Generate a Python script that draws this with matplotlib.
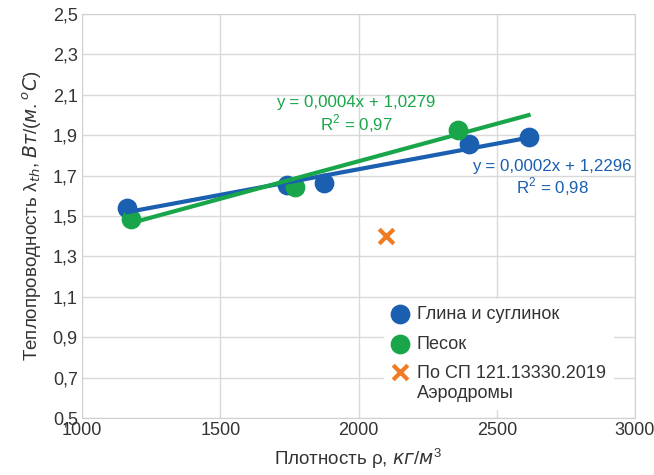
import numpy as np
import matplotlib
matplotlib.use("Agg")
import matplotlib.pyplot as plt
from matplotlib.legend_handler import HandlerPathCollection

plt.rcParams['font.family'] = ['Liberation Sans', 'DejaVu Sans']
plt.rcParams['mathtext.fontset'] = 'custom'
plt.rcParams['mathtext.rm'] = 'Liberation Sans'
plt.rcParams['mathtext.it'] = 'DejaVu Sans:italic'

# data
clay_x = [1164, 1740, 1875, 2400, 2615]
clay_y = [1.54, 1.655, 1.665, 1.855, 1.89]
sand_x = [1176, 1770, 2360]
sand_y = [1.485, 1.645, 1.925]
sp_x = [2100]
sp_y = [1.40]

blue = "#1a5fb0"
green = "#19a64a"
orange = "#f07b22"
txt = "#333333"

fig = plt.figure(figsize=(6.54, 4.75), dpi=100)
ax = fig.add_axes([82/654, 57/475, 553/654, 404/475])

ax.scatter(clay_x, clay_y, s=175, color=blue, zorder=3, label="Глина и суглинок")
ax.scatter(sand_x, sand_y, s=175, color=green, zorder=3, label="Песок")
sp = ax.scatter(sp_x, sp_y, s=110, marker="x", color=orange, linewidths=3, zorder=3,
                label="По СП 121.13330.2019\nАэродромы")

# linear trendlines
k1, b1 = np.polyfit(clay_x, clay_y, 1)
xx = np.array([min(clay_x), max(clay_x)])
ax.plot(xx, k1*xx + b1, color=blue, lw=3, zorder=4)
k2, b2 = np.polyfit(sand_x, sand_y, 1)
ax.plot(xx, k2*xx + b2, color=green, lw=3, zorder=4)

ax.text(1991, 2.0, "y = 0,0004x + 1,0279\nR$^2$ = 0,97", color=green, fontsize=12.2,
        ha="center", va="center", multialignment="center", linespacing=1.1)
ax.text(2700, 1.685, "y = 0,0002x + 1,2296\nR$^2$ = 0,98", color=blue, fontsize=12.2,
        ha="center", va="center", multialignment="center", linespacing=1.1)

ax.set_xlim(1000, 3000)
ax.set_ylim(0.5, 2.5)
ax.set_xticks([1000, 1500, 2000, 2500, 3000])
yt = [0.5, 0.7, 0.9, 1.1, 1.3, 1.5, 1.7, 1.9, 2.1, 2.3, 2.5]
ax.set_yticks(yt)
ax.set_yticklabels([f"{v:.1f}".replace(".", ",") for v in yt])
ax.tick_params(length=0, labelsize=13, colors=txt, pad=3)
ax.grid(True, color="#d9d9d9", lw=1)
ax.set_axisbelow(True)
for s in ax.spines.values():
    s.set_color("#d0d0d0")

ax.set_xlabel("Плотность ρ, $\\mathit{кг/м}^{3}$", fontsize=13.5, color=txt, labelpad=5)
ax.set_ylabel("Теплопроводность λ$_{th}$, $\\mathit{Вт/(м.}^{o}\\mathit{C)}$",
              fontsize=13.5, color=txt, labelpad=6)

leg = ax.legend(loc="upper left", bbox_to_anchor=(0.53, 0.317), fontsize=13,
                frameon=True, framealpha=1, edgecolor="white", handletextpad=0.4,
                labelspacing=0.7, borderpad=0.4, handlelength=1.0, fancybox=False,
                handler_map={sp: HandlerPathCollection(yoffsets=[1.45])})
for t in leg.get_texts():
    t.set_color(txt)

fig.savefig("out.png", dpi=100)
